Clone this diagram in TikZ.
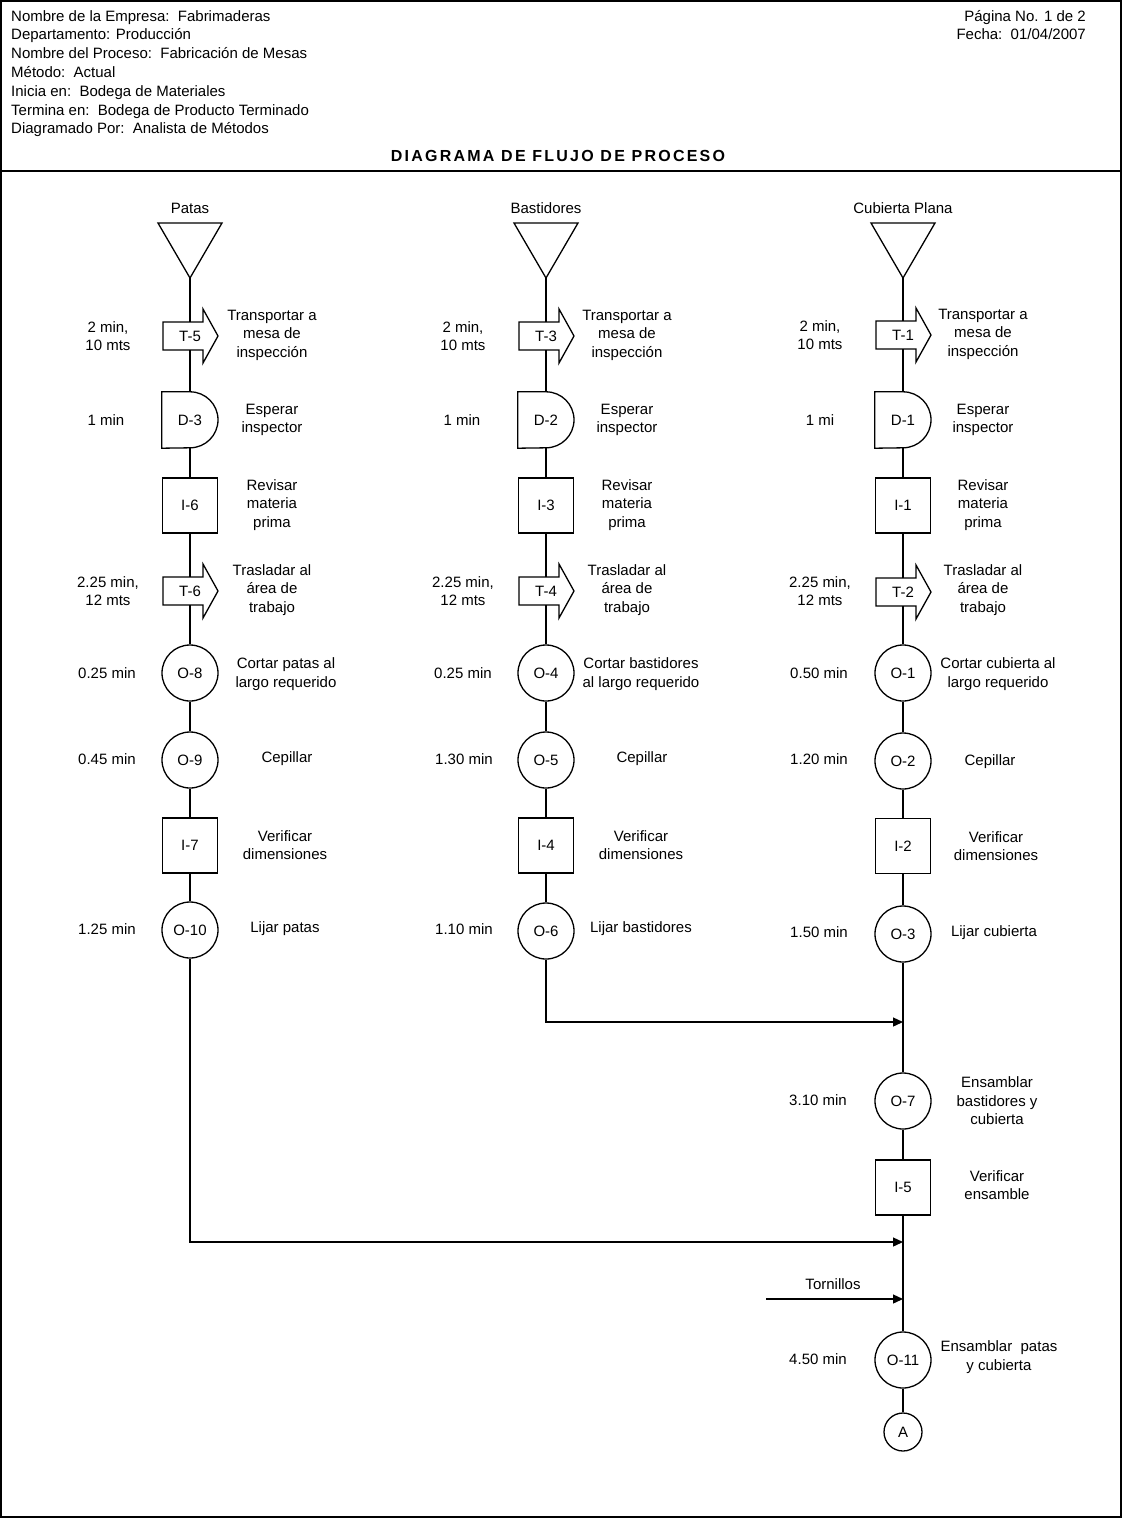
\documentclass[tikz,border=0pt]{standalone}
\usepackage{fontspec}
\setmainfont{Liberation Sans}
\usetikzlibrary{arrows.meta,calc}
\newcommand\fsz{\fontsize{15}{18.5}\selectfont}
\tikzset{
  base/.style={font=\fsz, inner sep=0pt},
  opc/.style={base, circle, draw, line width=1.3pt, minimum size=56pt},
  insp/.style={base, rectangle, draw, line width=1.3pt, minimum size=55pt},
  trn/.style={base, rectangle, minimum width=40pt, minimum height=28pt},
  dly/.style={base, rectangle, minimum width=56pt, minimum height=56pt},
  lbl/.style={base, align=center},
  hdr/.style={base, anchor=base west},
  link/.style={line width=1.3pt},
  mrg/.style={link, -{Triangle[length=10pt,width=9pt]}},
}
\newcommand\trsym[4]{%
  \node[trn] (#1) at (#2,#3) {#4};
  \draw[link] ([shift={(-27,14)}]#1.center) -- ++(40,0) -- ++(0,13) -- ++(15,-27) -- ++(-15,-27) -- ++(0,13) -- ++(-40,0) -- cycle;}
\newcommand\dlsym[4]{%
  \node[dly] (#1) at (#2,#3) {#4};
  \draw[link] (#1.north west) -- (#1.north) arc[start angle=90,end angle=-90,radius=28] -- (#1.south west) -- cycle;}
\newcommand\srcsym[3]{%
  \coordinate (#1) at (#2,-278);
  \draw[link] ($(#1)+(-32,55)$) -- ($(#1)+(32,55)$) -- (#1) -- cycle;
  \node[lbl] (#1lbl) at (#2,-208) {#3};}
\begin{document}
\begin{tikzpicture}[x=1pt,y=1pt]
\useasboundingbox (0,0) rectangle (1123,-1519);
% frame
\draw[link] (1,-1) rectangle (1121,-1517);
\draw[link] (1,-171) -- (1121,-171);
% header
\node[hdr] (h1) at (11,-21) {Nombre de la Empresa:\ \ Fabrimaderas};
\node[hdr] (h2) at (11,-39.8) {Departamento: Producción};
\node[hdr] (h3) at (11,-58.6) {Nombre del Proceso:\ \ Fabricación de Mesas};
\node[hdr] (h4) at (11,-77.4) {Método:\ \ Actual};
\node[hdr] (h5) at (11,-96.2) {Inicia en:\ \ Bodega de Materiales};
\node[hdr] (h6) at (11,-115) {Termina en:\ \ Bodega de Producto Terminado};
\node[hdr] (h7) at (11,-133.8) {Diagramado Por:\ \ Analista de Métodos};
\node[base, anchor=base east] (h8) at (1086,-21) {Página No. 1 de 2};
\node[base, anchor=base east] (h9) at (1086,-39.8) {Fecha:\ \ 01/04/2007};
\node[base, anchor=base, font=\fontsize{16}{19}\selectfont\bfseries\addfontfeatures{LetterSpace=14}] (title) at (558,-161) {DIAGRAMA DE FLUJO DE PROCESO};

% ===== Column Patas (x=190)
\srcsym{sp}{190}{Patas}
\trsym{t5}{190}{-336}{T-5}
\dlsym{d3}{190}{-420}{D-3}
\node[insp] (i6) at (190,-505.5) {I-6};
\trsym{t6}{190}{-591}{T-6}
\node[opc] (o8) at (190,-673) {O-8};
\node[opc] (o9) at (190,-760) {O-9};
\node[insp] (i7) at (190,-845.5) {I-7};
\node[opc] (o10) at (190,-930) {O-10};
\draw[link] (sp) -- (t5.north) (t5.south) -- (d3.north) (d3.south) -- (i6.north)
  (i6.south) -- (t6.north) (t6.south) -- (o8.north) (o8.south) -- (o9.north)
  (o9.south) -- (i7.north) (i7.south) -- (o10.north);
\node[lbl] (t5a) at (108,-336) {2 min,\\10 mts};
\node[lbl] (d3a) at (106,-420) {1 min};
\node[lbl] (t6a) at (108,-591) {2.25 min,\\12 mts};
\node[lbl] (o8a) at (107,-673) {0.25 min};
\node[lbl] (o9a) at (107,-759) {0.45 min};
\node[lbl] (o10a) at (107,-929) {1.25 min};
\node[lbl] (t5b) at (272,-335) {Transportar a\\mesa de\\inspección};
\node[lbl] (d3b) at (272,-420) {Esperar\\inspector};
\node[lbl] (i6b) at (272,-505) {Revisar\\materia\\prima};
\node[lbl] (t6b) at (272,-590) {Trasladar al\\área de\\trabajo};
\node[lbl] (o8b) at (286,-674) {Cortar patas al\\largo requerido};
\node[lbl] (o9b) at (287,-759) {Cepillar};
\node[lbl] (i7b) at (285,-845) {Verificar\\dimensiones};
\node[lbl] (o10b) at (285,-929) {Lijar patas};

% ===== Column Bastidores (x=546)
\srcsym{sb}{546}{Bastidores}
\trsym{t3}{546}{-336}{T-3}
\dlsym{d2}{546}{-420}{D-2}
\node[insp] (i3) at (546,-505.5) {I-3};
\trsym{t4}{546}{-591}{T-4}
\node[opc] (o4) at (546,-673) {O-4};
\node[opc] (o5) at (546,-760) {O-5};
\node[insp] (i4) at (546,-845.5) {I-4};
\node[opc] (o6) at (546,-931) {O-6};
\draw[link] (sb) -- (t3.north) (t3.south) -- (d2.north) (d2.south) -- (i3.north)
  (i3.south) -- (t4.north) (t4.south) -- (o4.north) (o4.south) -- (o5.north)
  (o5.south) -- (i4.north) (i4.south) -- (o6.north);
\node[lbl] (t3a) at (463,-336) {2 min,\\10 mts};
\node[lbl] (d2a) at (462,-420) {1 min};
\node[lbl] (t4a) at (463,-591) {2.25 min,\\12 mts};
\node[lbl] (o4a) at (463,-673) {0.25 min};
\node[lbl] (o5a) at (464,-759) {1.30 min};
\node[lbl] (o6a) at (464,-929) {1.10 min};
\node[lbl] (t3b) at (627,-335) {Transportar a\\mesa de\\inspección};
\node[lbl] (d2b) at (627,-420) {Esperar\\inspector};
\node[lbl] (i3b) at (627,-505) {Revisar\\materia\\prima};
\node[lbl] (t4b) at (627,-590) {Trasladar al\\área de\\trabajo};
\node[lbl] (o4b) at (641,-674) {Cortar bastidores\\al largo requerido};
\node[lbl] (o5b) at (642,-759) {Cepillar};
\node[lbl] (i4b) at (641,-845) {Verificar\\dimensiones};
\node[lbl] (o6b) at (641,-929) {Lijar bastidores};

% ===== Column Cubierta Plana (x=903)
\srcsym{sc}{903}{Cubierta Plana}
\trsym{t1}{903}{-335}{T-1}
\dlsym{d1}{903}{-420}{D-1}
\node[insp] (i1) at (903,-505.5) {I-1};
\trsym{t2}{903}{-592}{T-2}
\node[opc] (o1) at (903,-673) {O-1};
\node[opc] (o2) at (903,-761) {O-2};
\node[insp] (i2) at (903,-846) {I-2};
\node[opc] (o3) at (903,-934) {O-3};
\draw[link] (sc) -- (t1.north) (t1.south) -- (d1.north) (d1.south) -- (i1.north)
  (i1.south) -- (t2.north) (t2.south) -- (o1.north) (o1.south) -- (o2.north)
  (o2.south) -- (i2.north) (i2.south) -- (o3.north);
\node[lbl] (t1a) at (820,-335) {2 min,\\10 mts};
\node[lbl] (d1a) at (820,-420) {1 mi};
\node[lbl] (t2a) at (820,-591) {2.25 min,\\12 mts};
\node[lbl] (o1a) at (819,-673) {0.50 min};
\node[lbl] (o2a) at (819,-759) {1.20 min};
\node[lbl] (o3a) at (819,-932) {1.50 min};
\node[lbl] (t1b) at (983,-334) {Transportar a\\mesa de\\inspección};
\node[lbl] (d1b) at (983,-420) {Esperar\\inspector};
\node[lbl] (i1b) at (983,-505) {Revisar\\materia\\prima};
\node[lbl] (t2b) at (983,-590) {Trasladar al\\área de\\trabajo};
\node[lbl] (o1b) at (998,-674) {Cortar cubierta al\\largo requerido};
\node[lbl] (o2b) at (990,-762) {Cepillar};
\node[lbl] (i2b) at (996,-846) {Verificar\\dimensiones};
\node[lbl] (o3b) at (994,-933) {Lijar cubierta};

% ===== Assembly
\node[opc] (o7) at (903,-1101) {O-7};
\node[insp] (i5) at (903,-1187.5) {I-5};
\node[opc] (o11) at (903,-1360) {O-11};
\node[base, circle, draw, line width=1.3pt, minimum size=38pt] (ca) at (903,-1432) {A};
\coordinate (m1) at (903,-1022);
\coordinate (m2) at (903,-1242);
\coordinate (m3) at (903,-1299);
\coordinate (ts) at (766,-1299);
\draw[link] (o3.south) -- (o7.north) (o7.south) -- (i5.north) (i5.south) -- (o11.north) (o11.south) -- (ca.north);
\draw[mrg] (o6.south) |- (m1);
\draw[mrg] (o10.south) |- (m2);
\draw[mrg] (ts) -- (m3);
\node[lbl] (tor) at (833,-1284) {Tornillos};
\node[lbl] (o7a) at (818,-1100) {3.10 min};
\node[lbl] (o7b) at (997,-1101) {Ensamblar\\bastidores y\\cubierta};
\node[lbl] (i5b) at (997,-1185) {Verificar\\ensamble};
\node[lbl] (o11a) at (818,-1359) {4.50 min};
\node[lbl] (o11b) at (999,-1357) {Ensamblar\ \ patas\\y cubierta};
\end{tikzpicture}
\end{document}
